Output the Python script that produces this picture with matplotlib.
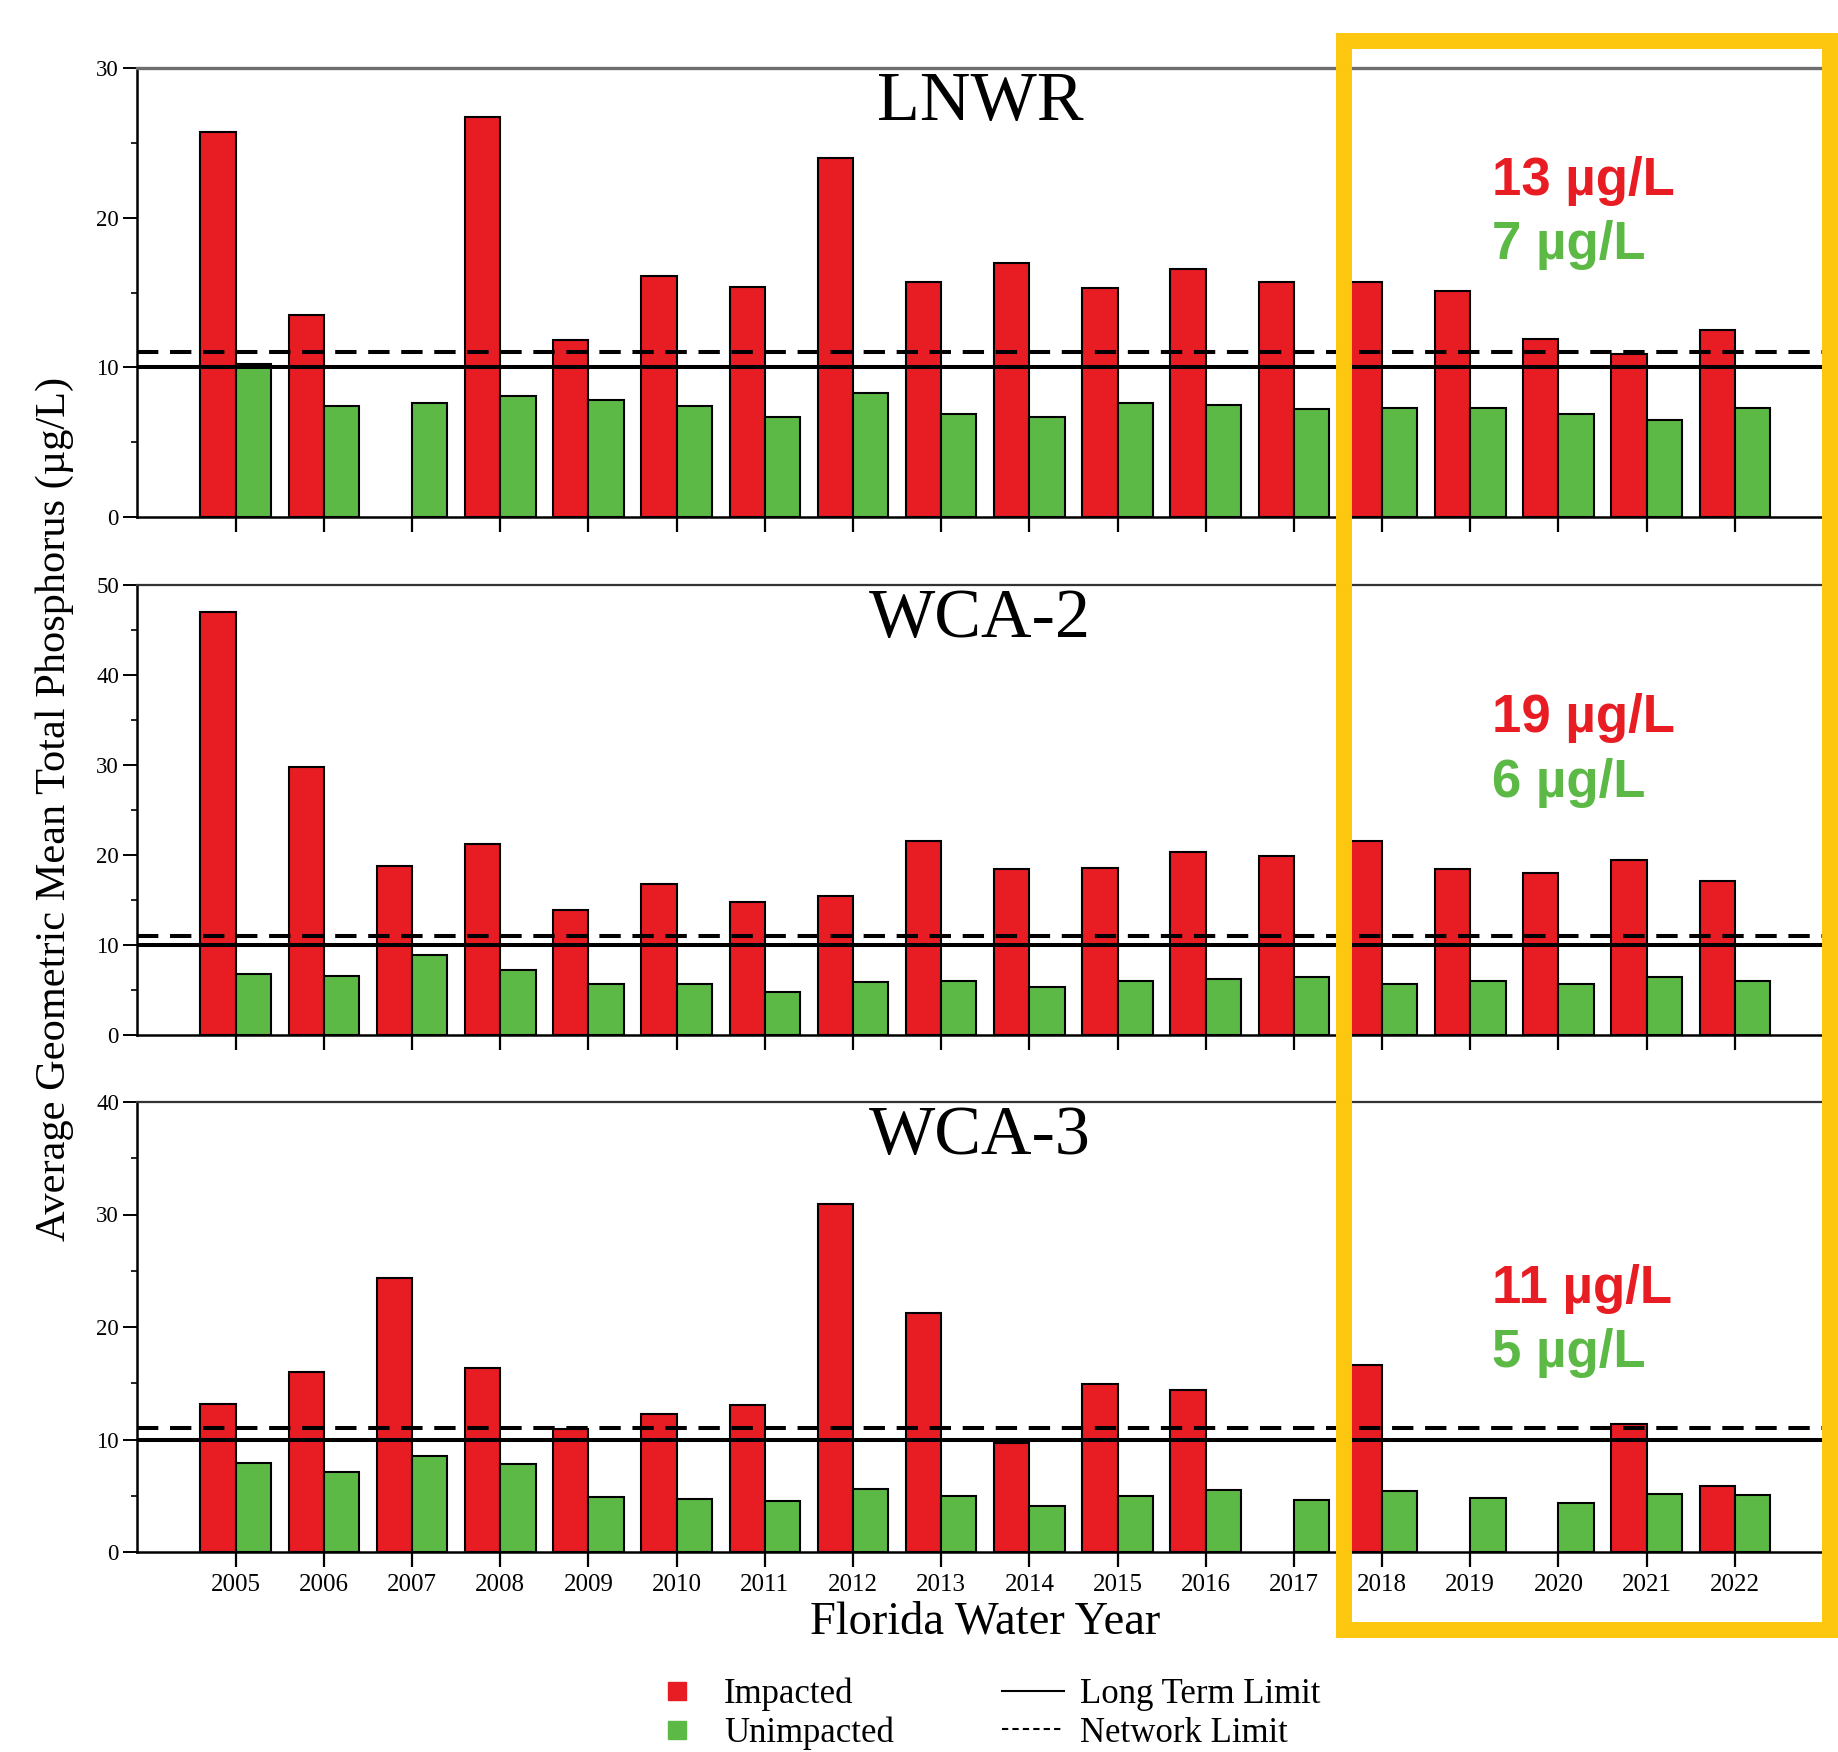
import matplotlib
matplotlib.use("Agg")
import matplotlib.pyplot as plt
from matplotlib.lines import Line2D
from matplotlib.patches import Rectangle
from matplotlib.ticker import MultipleLocator

# Florida water years
years = list(range(2005, 2023))

# Geometric mean total phosphorus (ug/L); None = no impacted sites that year
lnwr_impacted = [25.7, 13.5, None, 26.7, 11.8, 16.1, 15.4, 24.0, 15.7, 17.0,
                 15.3, 16.6, 15.7, 15.7, 15.1, 11.9, 10.9, 12.5]
lnwr_unimpacted = [10.2, 7.4, 7.6, 8.1, 7.8, 7.4, 6.7, 8.3, 6.9, 6.7,
                   7.6, 7.5, 7.2, 7.3, 7.3, 6.9, 6.5, 7.3]

wca2_impacted = [47.0, 29.8, 18.75, 21.2, 13.9, 16.8, 14.8, 15.4, 21.6, 18.5,
                 18.6, 20.3, 19.9, 21.6, 18.5, 18.0, 19.4, 17.1]
wca2_unimpacted = [6.8, 6.6, 8.85, 7.2, 5.7, 5.7, 4.8, 5.9, 6.0, 5.3,
                   6.0, 6.25, 6.4, 5.7, 6.0, 5.7, 6.4, 6.0]

wca3_impacted = [13.2, 16.0, 24.4, 16.4, 10.9, 12.3, 13.1, 30.9, 21.25, 9.7,
                 14.9, 14.4, None, 16.6, None, None, 11.35, 5.9]
wca3_unimpacted = [7.9, 7.1, 8.5, 7.8, 4.9, 4.7, 4.5, 5.6, 5.0, 4.1,
                   5.0, 5.5, 4.6, 5.4, 4.8, 4.4, 5.2, 5.1]

areas = ["LNWR", "WCA-2", "WCA-3"]
y_max = [30, 50, 40]
recent_impacted = ["13 µg/L", "19 µg/L", "11 µg/L"]
recent_unimpacted = ["7 µg/L", "6 µg/L", "5 µg/L"]

long_term_limit = 10
network_limit = 11

RED = "#e81c23"
GREEN = "#5cb946"
YELLOW = "#fdc70f"
SERIF = "Liberation Serif"

W, H = 1838, 1752
fig = plt.figure(figsize=(W / 100, H / 100), dpi=100)

# axes placement in pixels: (top, bottom)
panel_px = [(68, 517), (585, 1035), (1102, 1552)]
left_px, right_px = 137, 1823

series = [(lnwr_impacted, lnwr_unimpacted),
          (wca2_impacted, wca2_unimpacted),
          (wca3_impacted, wca3_unimpacted)]

axes = []
for i, ((top, bot), (imp, unimp)) in enumerate(zip(panel_px, series)):
    ax = fig.add_axes([left_px / W, 1 - bot / H, (right_px - left_px) / W, (bot - top) / H])
    axes.append(ax)
    bw = 0.4
    xi = [y - bw / 2 for y, v in zip(years, imp) if v is not None]
    vi = [v for v in imp if v is not None]
    ax.bar(xi, vi, width=bw, color=RED, edgecolor="black", linewidth=1.5, zorder=2)
    ax.bar([y + bw / 2 for y in years], unimp, width=bw, color=GREEN,
           edgecolor="black", linewidth=1.5, zorder=2)
    ax.axhline(long_term_limit, color="black", lw=2.9, zorder=3)
    ax.axhline(network_limit, color="black", lw=2.9, ls=(0, (5.3, 2.9)), zorder=3)

    ax.set_xlim(2003.88, 2023.0)
    ax.set_ylim(0, y_max[i])
    ax.yaxis.set_major_locator(MultipleLocator(10))
    ax.yaxis.set_minor_locator(MultipleLocator(5))
    ax.set_xticks(years)
    ax.tick_params(axis="y", which="major", direction="out", length=10, width=1.4,
                   labelsize=16.5, pad=3)
    ax.tick_params(axis="y", which="minor", direction="out", length=4, width=1.2)
    ax.tick_params(axis="x", direction="out", length=11, width=1.6, labelsize=18, pad=5)
    for lab in ax.get_yticklabels() + ax.get_xticklabels():
        lab.set_fontfamily(SERIF)
    if i < 2:
        ax.tick_params(axis="x", labelbottom=False)
    ax.spines["right"].set_visible(False)
    ax.spines["left"].set_linewidth(1.8)
    ax.spines["bottom"].set_linewidth(1.8)
    ax.spines["top"].set_linewidth(2.4 if i == 0 else 1.6)
    ax.spines["top"].set_color("#6e6e6e" if i == 0 else "#333333")
    ax.text(0.5, 0.922, areas[i], transform=ax.transAxes, ha="center", va="center",
            fontsize=50.5, family=SERIF)

# recent-period averages
ann_y = [(181, 245), (718, 783), (1289, 1353)]
for (y1, y2), a, b in zip(ann_y, recent_impacted, recent_unimpacted):
    fig.text(1492 / W, 1 - y1 / H, a, color=RED, fontsize=38, fontweight="bold",
             family="Liberation Sans", ha="left", va="center")
    fig.text(1492 / W, 1 - y2 / H, b, color=GREEN, fontsize=38, fontweight="bold",
             family="Liberation Sans", ha="left", va="center")

fig.text(55 / W, 1 - 809 / H, "Average Geometric Mean Total Phosphorus (µg/L)",
         rotation=90, ha="center", va="center", fontsize=30.5, family=SERIF)
fig.text(985 / W, 1 - 1622 / H, "Florida Water Year", ha="center", va="center",
         fontsize=33.5, family=SERIF)

# highlight box around the most recent water years
fig.patches.append(Rectangle((1344 / W, 1 - 1630 / H), (1830 - 1344) / W, (1630 - 41) / H,
                             transform=fig.transFigure, fill=False, edgecolor=YELLOW,
                             linewidth=11.5, zorder=10))

handles = [
    Line2D([], [], marker="s", color=RED, markersize=13, linestyle="none"),
    Line2D([], [], marker="s", color=GREEN, markersize=13, linestyle="none"),
    Line2D([], [], color="black", lw=1.5),
    Line2D([], [], color="black", lw=1.5, ls=(0, (3, 2))),
]
labels = ["Impacted", "Unimpacted", "Long Term Limit", "Network Limit"]
fig.legend(handles, labels, ncol=2, loc="center", bbox_to_anchor=(983 / W, 1 - 1714 / H),
           frameon=False, prop={"family": SERIF, "size": 25}, handlelength=1.8,
           columnspacing=3.1, labelspacing=0.15, handletextpad=0.45)

fig.savefig("out.png", dpi=100, facecolor="white")
